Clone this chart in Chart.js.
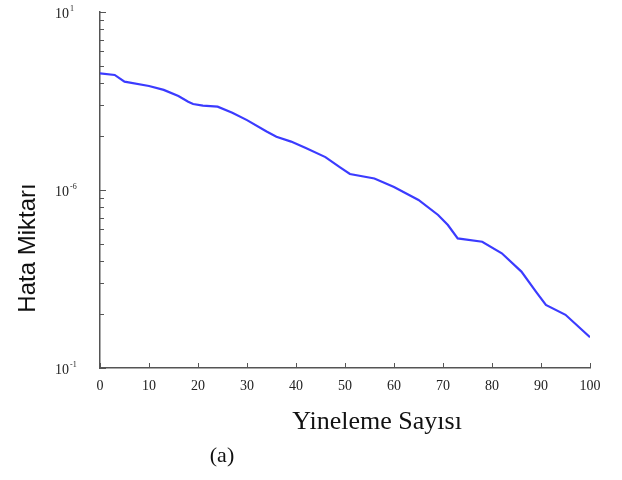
<!DOCTYPE html>
<html>
<head>
<meta charset="utf-8">
<script src="https://cdn.jsdelivr.net/npm/chart.js@4"></script>
<style>
  html, body { margin: 0; padding: 0; background: #fff; }
  #wrap { width: 622px; height: 480px; }
</style>
</head>
<body>
<div id="wrap"><canvas id="errChart" width="622" height="480"></canvas></div>
<script>
// iteration number and error value
const iterations = [0, 3, 5, 10, 13, 16, 18, 19, 21, 24, 27, 30, 34, 36, 39, 42, 46, 49, 51, 56, 60, 65, 69, 71, 73, 78, 82, 86, 89, 91, 95, 100];
const errors = [4.52, 4.43, 4.06, 3.84, 3.65, 3.37, 3.13, 3.04, 2.98, 2.94, 2.72, 2.47, 2.13, 1.99, 1.87, 1.72, 1.53, 1.34, 1.23, 1.16, 1.04, 0.879, 0.724, 0.636, 0.535, 0.512, 0.441, 0.348, 0.268, 0.226, 0.199, 0.149];
const xTicks = [0, 10, 20, 30, 40, 50, 60, 70, 80, 90, 100];
const yDecades = [0.1, 1, 10];
const yDecadeExp = ['-1', '-6', '1'];

const AXIS = '#555';

const axisPlugin = {
    id: 'axisDecor',
    afterDraw(chart) {
        const { ctx, chartArea: a, scales } = chart;
        const x = scales.x, y = scales.y;
        ctx.save();
        ctx.strokeStyle = AXIS;
        ctx.lineWidth = 1;

        // inward ticks on y (log minor + major)
        y.ticks.forEach(t => {
            const py = Math.round(y.getPixelForValue(t.value)) + 0.5;
            const major = yDecades.includes(t.value);
            ctx.beginPath();
            ctx.moveTo(a.left, py);
            ctx.lineTo(a.left + (major ? 6 : 4), py);
            ctx.stroke();
        });
        // inward ticks on x
        xTicks.forEach(v => {
            const px = Math.round(x.getPixelForValue(v)) + 0.5;
            ctx.beginPath();
            ctx.moveTo(px, a.bottom);
            ctx.lineTo(px, a.bottom - 5);
            ctx.stroke();
        });

        // y decade labels with superscript
        ctx.fillStyle = '#222';
        ctx.textBaseline = 'middle';
        yDecades.forEach((v, i) => {
            const py = y.getPixelForValue(v);
            ctx.font = '14px "Liberation Serif", serif';
            ctx.textAlign = 'left';
            ctx.fillText('10', 55, py + 2);
            const w = ctx.measureText('10').width;
            ctx.font = '8px "Liberation Serif", serif';
            ctx.fillText(yDecadeExp[i], 55 + w + 1, py - 3);
        });

        // axis titles
        ctx.fillStyle = '#111';
        ctx.font = '24px "Liberation Sans", Arial, sans-serif';
        ctx.textAlign = 'center';
        ctx.textBaseline = 'middle';
        ctx.save();
        ctx.translate(28, 248);
        ctx.rotate(-Math.PI / 2);
        ctx.fillText('Hata Miktarı', 0, 0);
        ctx.restore();

        ctx.font = '26px "Liberation Serif", "Times New Roman", serif';
        ctx.fillText('Yineleme Sayısı', 377, 422);
        ctx.font = '22px "Liberation Serif", "Times New Roman", serif';
        ctx.fillText('(a)', 222, 456);
        ctx.restore();
    }
};

new Chart(document.getElementById('errChart'), {
    type: 'line',
    data: {
        datasets: [{
            data: iterations.map((it, i) => ({ x: it, y: errors[i] })),
            borderColor: '#3b3bff',
            borderWidth: 2.2,
            pointRadius: 0,
            tension: 0,
            fill: false
        }]
    },
    options: {
        responsive: false,
        animation: false,
        layout: { padding: { top: 12, right: 32, left: 0, bottom: 0 } },
        plugins: { legend: { display: false }, tooltip: { enabled: false } },
        scales: {
            x: {
                type: 'linear',
                min: 0,
                max: 100,
                afterBuildTicks: s => { s.ticks = xTicks.map(v => ({ value: v })); },
                afterFit: s => { s.height = 112; },
                grid: { display: false, drawTicks: false },
                border: { display: true, color: AXIS, width: 1.5 },
                ticks: {
                    padding: 10,
                    color: '#222',
                    maxRotation: 0,
                    font: { family: '"Liberation Serif", serif', size: 14 }
                }
            },
            y: {
                type: 'logarithmic',
                min: 0.1,
                max: 10,
                afterBuildTicks: s => {
                    const t = [];
                    [0.1, 1].forEach(d => { for (let k = 1; k < 10; k++) t.push({ value: +(d * k).toPrecision(3) }); });
                    t.push({ value: 10 });
                    s.ticks = t;
                },
                afterFit: s => { s.width = 100; },
                grid: { display: false, drawTicks: false },
                border: { display: true, color: AXIS, width: 1.5 },
                ticks: { display: false }
            }
        }
    },
    plugins: [axisPlugin]
});
</script>
</body>
</html>
